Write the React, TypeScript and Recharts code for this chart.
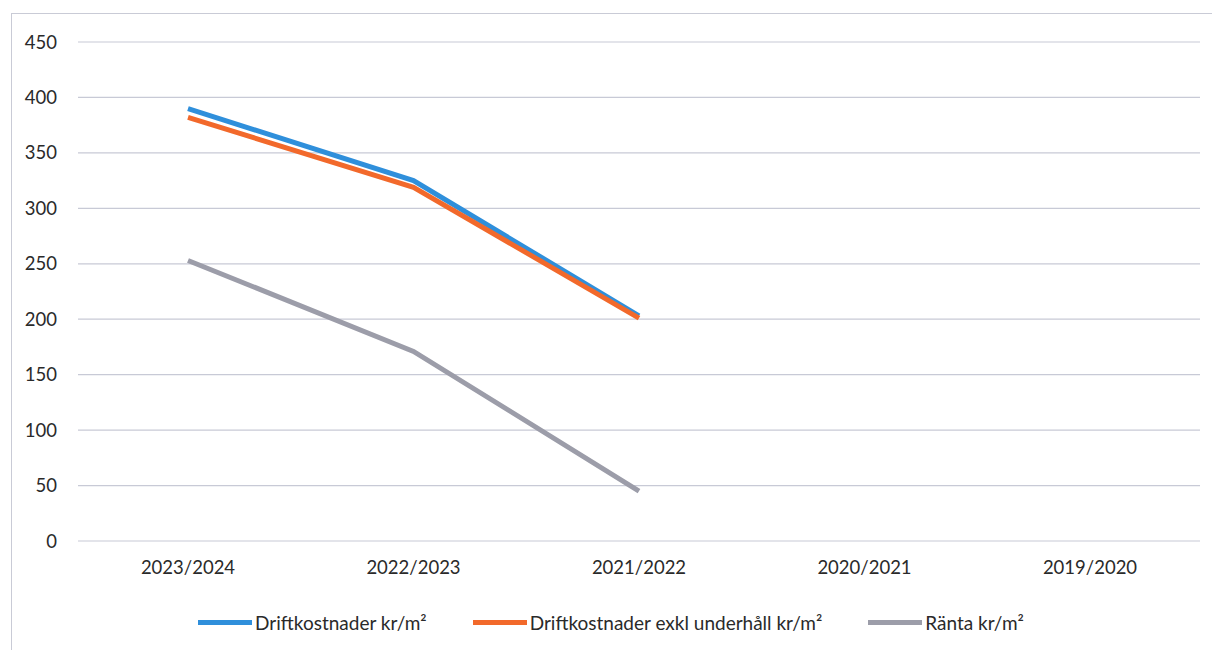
import React from 'react';
import { LineChart, Line, XAxis, YAxis, CartesianGrid, Legend } from 'recharts';

const years = ['2023/2024', '2022/2023', '2021/2022', '2020/2021', '2019/2020'];
const driftkostnader = [390, 325, 203, null, null];
const driftExklUnderhall = [382, 319, 201, null, null];
const ranta = [253, 171, 45, null, null];
const yTicks = [0, 50, 100, 150, 200, 250, 300, 350, 400, 450];

const series = [
    { key: 'drift', name: 'Driftkostnader kr/m²', color: '#2f8fdb' },
    { key: 'exkl', name: 'Driftkostnader exkl underhåll kr/m²', color: '#f2692b' },
    { key: 'ranta', name: 'Ränta kr/m²', color: '#9c9da9' },
];

const data = years.map((year, i) => ({
    year,
    drift: driftkostnader[i],
    exkl: driftExklUnderhall[i],
    ranta: ranta[i],
}));

const FONT = 'Lato, "Open Sans", sans-serif';

const LegendContent = () => (
    <div style={{ display: 'flex', justifyContent: 'center', alignItems: 'center', paddingTop: 25, paddingRight: 16, fontFamily: FONT, fontSize: 19, color: '#2a2a2a' }}>
        {series.map((s) => (
            <div key={s.key} style={{ display: 'flex', alignItems: 'center', margin: '0 23px' }}>
                <span style={{ display: 'inline-block', width: 54, height: 5, background: s.color, marginRight: 3 }} />
                <span>{s.name}</span>
            </div>
        ))}
    </div>
);

const App: React.FC = () => {
    return (
        <div style={{ width: 1212, height: 640, border: '1px solid #c9cbd6', margin: '5px 0 0 3px', background: '#fff' }}>
            <LineChart width={1200} height={640} data={data} margin={{ top: 28, right: 12, left: 26, bottom: 10 }}>
                <CartesianGrid vertical={false} stroke="#c8cad6" strokeWidth={1.2} />
                <XAxis
                    dataKey="year"
                    axisLine={false}
                    tickLine={false}
                    tickSize={0}
                    tickMargin={20}
                    height={45}
                    padding={{ left: 110, right: 110 }}
                    tick={{ fill: '#2a2a2a', fontSize: 18.5, fontFamily: FONT }}
                />
                <YAxis
                    domain={[0, 450]}
                    ticks={yTicks}
                    axisLine={false}
                    tickLine={false}
                    tickSize={0}
                    tickMargin={21}
                    width={40}
                    tick={{ fill: '#2a2a2a', fontSize: 18.5, fontFamily: FONT }}
                />
                <Legend verticalAlign="bottom" height={58} content={<LegendContent />} />
                {series.map((s) => (
                    <Line
                        key={s.key}
                        type="linear"
                        dataKey={s.key}
                        name={s.name}
                        stroke={s.color}
                        strokeWidth={5}
                        dot={false}
                        activeDot={false}
                        isAnimationActive={false}
                    />
                ))}
            </LineChart>
        </div>
    );
};

export default App;
